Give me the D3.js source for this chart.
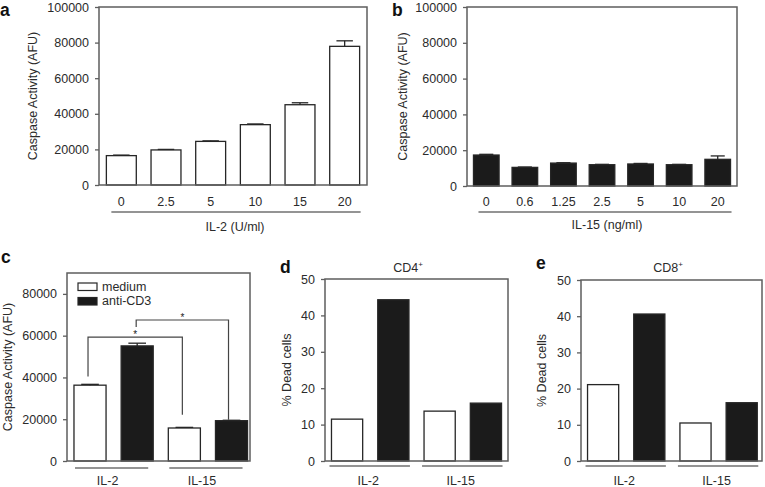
<!DOCTYPE html>
<html><head><meta charset="utf-8">
<script src="https://cdn.jsdelivr.net/npm/d3@7"></script>
<style>body{margin:0;background:#fff}svg{display:block;font-family:"Liberation Sans",Arial,Helvetica,sans-serif}</style>
</head><body><svg id="chart" width="765" height="487"></svg>
<script>
// ---------- data ----------
const aDoses = ["0", "2.5", "5", "10", "15", "20"];
const aValues = [16500, 19700, 24500, 33900, 45100, 77900];
const aErrors = [300, 300, 300, 400, 1100, 3100];

const bDoses = ["0", "0.6", "1.25", "2.5", "5", "10", "20"];
const bValues = [17300, 10400, 12800, 11900, 12300, 11900, 14900];
const bErrors = [400, 200, 200, 200, 300, 200, 1900];

const caspaseTicks = [0, 20000, 40000, 60000, 80000, 100000];
const cTicks = [0, 20000, 40000, 60000, 80000];
const deadTicks = [0, 10, 20, 30, 40, 50];

const groups = ["IL-2", "IL-15"];
const conditions = ["medium", "anti-CD3"];

const cMedium = [36300, 15800];
const cMediumErr = [400, 300];
const cAntiCD3 = [55100, 19300];
const cAntiCD3Err = [1300, 200];
const cComparisons = [["IL-2|medium", "IL-15|medium"], ["IL-2|anti-CD3", "IL-15|anti-CD3"]];

const dMedium = [11.5, 13.7];
const dAntiCD3 = [44.3, 15.9];
const eMedium = [21.1, 10.5];
const eAntiCD3 = [40.6, 16.1];

// ---------- style ----------
const FRAME = "#5e5e5e", TEXT = "#2b2b2b", BAR_STROKE = "#262626", BLACK = "#1b1b1b";
const FS = 12.5;
const svg = d3.select("#chart");

function frame(f) {
  svg.append("rect").attr("x", f.l).attr("y", f.t).attr("width", f.r - f.l).attr("height", f.b - f.t)
    .attr("fill", "none").attr("stroke", FRAME).attr("stroke-width", 1.5);
}
function yAxis(f, y, ticks) {
  const ax = d3.axisLeft(y).tickValues(ticks).tickSizeInner(4).tickSizeOuter(0).tickPadding(6).tickFormat(d3.format("d"));
  const g = svg.append("g").attr("transform", `translate(${f.l},0)`).call(ax)
    .attr("font-size", FS).attr("font-family", null);
  g.select(".domain").remove();
  g.selectAll("line").attr("stroke", FRAME).attr("stroke-width", 1.3);
  g.selectAll("text").attr("fill", TEXT);
}
function yTitle(text, x, cy) {
  svg.append("text").attr("transform", `translate(${x},${cy}) rotate(-90)`).attr("text-anchor", "middle")
    .attr("dy", "0.35em").attr("font-size", FS).attr("fill", TEXT).text(text);
}
function letter(t, x, y) {
  svg.append("text").attr("x", x).attr("y", y).attr("font-size", 17.5).attr("font-weight", "bold").attr("fill", "#111").text(t);
}
function bars(data, x, y, f) {
  svg.append("g").selectAll("rect").data(data).join("rect")
    .attr("x", d => x(d.key)).attr("width", x.bandwidth())
    .attr("y", d => y(d.value)).attr("height", d => f.b - y(d.value))
    .attr("fill", d => d.fill).attr("stroke", BAR_STROKE).attr("stroke-width", 1.3);
}
function errorBars(data, x, y) {
  const g = svg.append("g").attr("stroke", BAR_STROKE).attr("stroke-width", 1.3);
  data.filter(d => d.err).forEach(d => {
    const cx = x(d.key) + x.bandwidth() / 2, cw = x.bandwidth() * 0.55;
    g.append("line").attr("x1", cx).attr("x2", cx).attr("y1", y(d.value)).attr("y2", y(d.value + d.err));
    g.append("line").attr("x1", cx - cw / 2).attr("x2", cx + cw / 2).attr("y1", y(d.value + d.err)).attr("y2", y(d.value + d.err));
  });
}
function underline(x1, x2, yy) {
  svg.append("line").attr("x1", x1).attr("x2", x2).attr("y1", yy).attr("y2", yy)
    .attr("stroke", "#707070").attr("stroke-width", 1.5);
}
function label(t, x, yy) {
  svg.append("text").attr("x", x).attr("y", yy).attr("text-anchor", "middle").attr("font-size", FS).attr("fill", TEXT).text(t);
}

// ---------- panels a & b (dose response) ----------
function dosePanel(cfg) {
  const f = cfg.frame;
  const x = d3.scaleBand().domain(cfg.cats).range([f.l, f.r]).paddingInner(cfg.pi).paddingOuter(cfg.pi / 2);
  const y = d3.scaleLinear().domain([0, 100000]).range([f.b, f.t]);
  const data = cfg.cats.map((c, i) => ({ key: c, value: cfg.values[i], err: cfg.errors[i], fill: cfg.fill }));
  bars(data, x, y, f);
  errorBars(data, x, y);
  frame(f);
  yAxis(f, y, caspaseTicks);
  cfg.cats.forEach(c => label(c, x(c) + x.bandwidth() / 2, cfg.tickY));
  underline(x(cfg.cats[0]) + cfg.ul[0], x(cfg.cats[cfg.cats.length - 1]) + x.bandwidth() + cfg.ul[1], cfg.ulY);
  label(cfg.xTitle, cfg.xTitleX, cfg.xTitleY);
  yTitle("Caspase Activity (AFU)", cfg.yTitleX, (f.t + f.b) / 2);
  letter(cfg.letter, cfg.letterX, cfg.letterY);
}
dosePanel({ frame: { l: 99, r: 367, t: 7, b: 185 }, cats: aDoses, values: aValues, errors: aErrors, fill: "#fff",
  pi: 0.33, tickY: 206, ul: [5, 1], ulY: 212, xTitle: "IL-2 (U/ml)", xTitleX: 235, xTitleY: 231,
  yTitleX: 33, letter: "a", letterX: 0, letterY: 15.5 });
dosePanel({ frame: { l: 467, r: 737, t: 7, b: 186 }, cats: bDoses, values: bValues, errors: bErrors, fill: BLACK,
  pi: 0.336, tickY: 206, ul: [5, 1], ulY: 212, xTitle: "IL-15 (ng/ml)", xTitleX: 607, xTitleY: 229,
  yTitleX: 403, letter: "b", letterX: 392, letterY: 15.5 });

// ---------- panels c, d, e (grouped) ----------
function groupedPanel(cfg) {
  const f = cfg.frame;
  const keys = [];
  groups.forEach(g => conditions.forEach(cond => keys.push(g + "|" + cond)));
  const x = d3.scaleBand().domain(keys).range([f.l, f.r]).paddingInner(cfg.pi).paddingOuter(cfg.po).align(cfg.align);
  const y = d3.scaleLinear().domain([0, cfg.yMax]).range([f.b, f.t]);
  const data = [];
  groups.forEach((g, gi) => {
    data.push({ key: g + "|medium", value: cfg.medium[gi], err: cfg.mediumErr ? cfg.mediumErr[gi] : 0, fill: "#fff" });
    data.push({ key: g + "|anti-CD3", value: cfg.anti[gi], err: cfg.antiErr ? cfg.antiErr[gi] : 0, fill: BLACK });
  });
  bars(data, x, y, f);
  errorBars(data, x, y);
  frame(f);
  yAxis(f, y, cfg.ticks);
  groups.forEach(g => {
    const x1 = x(g + "|medium"), x2 = x(g + "|anti-CD3") + x.bandwidth();
    underline(x1 + cfg.ul[0], x2 + cfg.ul[1], cfg.ulY);
    label(g, (x1 + x2) / 2 + cfg.labelShift, cfg.labelY);
  });
  yTitle(cfg.yTitle, cfg.yTitleX, (f.t + f.b) / 2);
  letter(cfg.letter, cfg.letterX, cfg.letterY);
  if (cfg.title) {
    const t = svg.append("text").attr("x", cfg.titleX).attr("y", cfg.titleY).attr("text-anchor", "middle")
      .attr("font-size", FS).attr("fill", TEXT);
    t.append("tspan").text(cfg.title);
    t.append("tspan").attr("font-size", 8).attr("dy", -5).text("+");
  }
  return { x, y };
}

const cPanel = groupedPanel({ frame: { l: 67, r: 250, t: 273, b: 461 }, yMax: 90000, ticks: cTicks,
  medium: cMedium, mediumErr: cMediumErr, anti: cAntiCD3, antiErr: cAntiCD3Err,
  pi: 0.32, po: 0.1, align: 0.74, ul: [1, -5], ulY: 468, labelShift: -6, labelY: 485,
  yTitle: "Caspase Activity (AFU)", yTitleX: 8, letter: "c", letterX: 1, letterY: 263 });

// legend (panel c)
[{ name: conditions[0], fill: "#fff", y: 283 }, { name: conditions[1], fill: BLACK, y: 297.5 }].forEach(it => {
  svg.append("rect").attr("x", 78).attr("y", it.y).attr("width", 19).attr("height", 7.5)
    .attr("fill", it.fill).attr("stroke", BAR_STROKE).attr("stroke-width", 1.2);
  svg.append("text").attr("x", 102).attr("y", it.y + 7.5).attr("font-size", FS).attr("fill", TEXT).text(it.name);
});

// significance brackets (panel c)
const bracketLayout = [
  { top: 59300, leftEnd: 40500, rightEnd: 22200, dx: [-2, -2] },
  { top: 67500, leftEnd: 64100, rightEnd: 19800, dx: [-1, -3] }
];
cComparisons.forEach((pair, i) => {
  const L = bracketLayout[i];
  const xa = cPanel.x(pair[0]) + cPanel.x.bandwidth() / 2 + L.dx[0];
  const xb = cPanel.x(pair[1]) + cPanel.x.bandwidth() / 2 + L.dx[1];
  const yt = cPanel.y(L.top);
  svg.append("path").attr("d", `M${xa},${cPanel.y(L.leftEnd)}V${yt}H${xb}V${cPanel.y(L.rightEnd)}`)
    .attr("fill", "none").attr("stroke", "#444").attr("stroke-width", 1.2);
  svg.append("text").attr("x", (xa + xb) / 2).attr("y", yt + 1).attr("text-anchor", "middle")
    .attr("font-size", 10).attr("fill", "#222").text("*");
});

groupedPanel({ frame: { l: 325, r: 508, t: 279, b: 461 }, yMax: 50, ticks: deadTicks,
  medium: dMedium, anti: dAntiCD3, pi: 0.326, po: 0.14, align: 0.5, ul: [-2, 1], ulY: 466,
  labelShift: -2, labelY: 485, yTitle: "% Dead cells", yTitleX: 287, letter: "d", letterX: 280, letterY: 273,
  title: "CD4", titleX: 408, titleY: 272 });
groupedPanel({ frame: { l: 581, r: 762, t: 280, b: 461 }, yMax: 50, ticks: deadTicks,
  medium: eMedium, anti: eAntiCD3, pi: 0.326, po: 0.122, align: 0.58, ul: [-2, 1], ulY: 466,
  labelShift: -2, labelY: 485, yTitle: "% Dead cells", yTitleX: 542, letter: "e", letterX: 536, letterY: 269,
  title: "CD8", titleX: 668, titleY: 272 });
</script></body></html>
